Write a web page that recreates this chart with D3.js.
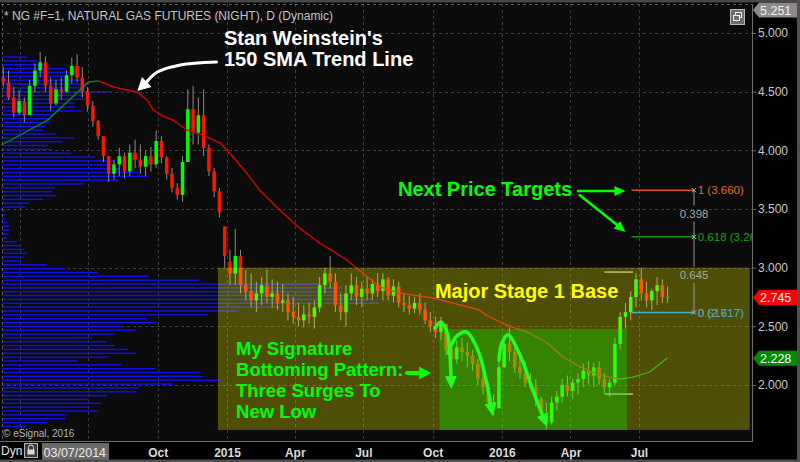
<!DOCTYPE html>
<html><head><meta charset="utf-8">
<script src="https://cdn.jsdelivr.net/npm/d3@7"></script>
<style>
html,body{margin:0;padding:0;background:#000;}
svg{display:block;font-family:"Liberation Sans",Arial,sans-serif;}
</style></head><body>
<svg id="chart" width="800" height="462"></svg>
<script>
// ---------------- DATA ----------------
const chartTitle = "* NG #F=1, NATURAL GAS FUTURES (NIGHT), D (Dynamic)";
const firstDate = "2014-03-07";
const lastDomainDate = "2016-11-28";
const barStart = "2014-03-10"; // weekly bars, one per week
// [open, high, low, close]
const weeklyBars = [
 [4.62,4.71,4.54,4.58],[4.58,4.68,4.43,4.45],[4.45,4.54,4.28,4.32],[4.32,4.51,4.30,4.42],
 [4.42,4.45,4.24,4.30],[4.30,4.60,4.30,4.55],[4.55,4.74,4.49,4.68],[4.68,4.84,4.62,4.75],
 [4.75,4.80,4.50,4.55],[4.55,4.62,4.34,4.40],[4.40,4.60,4.38,4.52],[4.52,4.62,4.43,4.50],
 [4.50,4.68,4.49,4.64],[4.64,4.79,4.57,4.72],[4.72,4.82,4.58,4.62],[4.62,4.71,4.45,4.50],
 [4.50,4.54,4.33,4.38],[4.38,4.42,4.20,4.25],[4.25,4.26,4.09,4.12],[4.12,4.12,3.90,3.95],
 [3.95,3.95,3.73,3.80],[3.80,3.92,3.75,3.88],[3.88,4.02,3.78,3.95],[3.95,3.98,3.76,3.82],
 [3.82,4.05,3.78,3.98],[3.98,4.09,3.85,3.92],[3.92,4.05,3.80,3.86],[3.86,4.00,3.78,3.95],
 [3.95,4.03,3.82,3.88],[3.88,4.17,3.85,4.08],[4.08,4.12,3.89,3.94],[3.94,3.95,3.75,3.80],
 [3.80,3.85,3.64,3.68],[3.68,3.72,3.58,3.62],[3.62,3.95,3.56,3.90],[3.90,4.52,3.90,4.35],
 [4.35,4.55,4.05,4.15],[4.15,4.45,4.05,4.30],[4.30,4.52,3.95,4.02],[4.02,4.05,3.78,3.82],
 [3.82,3.85,3.60,3.65],[3.65,3.68,3.43,3.47],[3.35,3.35,3.00,3.10],[3.05,3.15,2.85,2.95],
 [2.95,3.33,2.85,3.10],[3.10,3.15,2.78,2.85],[2.85,2.98,2.72,2.80],[2.80,2.95,2.66,2.72],
 [2.72,2.88,2.62,2.78],[2.78,2.92,2.68,2.85],[2.85,2.98,2.70,2.75],[2.75,2.90,2.66,2.78],
 [2.78,2.88,2.64,2.70],[2.70,2.86,2.62,2.72],[2.72,2.78,2.55,2.62],[2.62,2.75,2.52,2.58],
 [2.58,2.70,2.50,2.55],[2.55,2.68,2.49,2.60],[2.60,2.70,2.52,2.58],[2.58,2.72,2.48,2.66],
 [2.66,2.92,2.62,2.85],[2.85,3.00,2.78,2.95],[2.95,3.10,2.82,2.88],[2.88,2.95,2.62,2.68],
 [2.68,2.78,2.55,2.62],[2.62,2.85,2.50,2.78],[2.78,2.95,2.72,2.85],[2.85,2.92,2.68,2.75],
 [2.75,2.88,2.66,2.82],[2.82,2.92,2.72,2.78],[2.78,2.90,2.72,2.86],[2.86,2.95,2.75,2.80],
 [2.80,2.95,2.72,2.90],[2.90,2.92,2.72,2.76],[2.76,2.90,2.70,2.84],[2.84,2.88,2.66,2.70],
 [2.70,2.78,2.62,2.68],[2.68,2.76,2.60,2.65],[2.65,2.75,2.61,2.70],[2.70,2.78,2.60,2.64],
 [2.64,2.70,2.52,2.55],[2.55,2.62,2.45,2.50],[2.50,2.58,2.40,2.45],[2.45,2.58,2.38,2.52],
 [2.52,2.52,2.25,2.30],[2.30,2.35,2.15,2.22],[2.22,2.38,2.18,2.32],[2.32,2.40,2.20,2.28],
 [2.28,2.36,2.15,2.25],[2.25,2.30,2.12,2.18],[2.18,2.22,2.00,2.05],[2.05,2.10,1.92,1.98],
 [1.98,2.02,1.80,1.85],[1.85,1.92,1.74,1.80],[1.80,2.20,1.82,2.15],[2.15,2.42,2.15,2.35],
 [2.35,2.49,2.20,2.28],[2.28,2.32,2.10,2.15],[2.15,2.25,2.05,2.10],[2.10,2.20,1.98,2.02],
 [2.02,2.10,1.96,1.98],[1.98,2.05,1.82,1.88],[1.88,1.90,1.72,1.76],[1.76,1.85,1.62,1.68],
 [1.68,1.90,1.66,1.85],[1.85,1.95,1.78,1.90],[1.90,2.05,1.85,2.00],[2.00,2.08,1.90,1.95],
 [1.95,2.05,1.88,2.02],[2.02,2.10,1.92,2.05],[2.05,2.18,1.98,2.12],[2.12,2.20,2.00,2.08],
 [2.08,2.19,1.98,2.15],[2.15,2.20,2.00,2.05],[2.05,2.10,1.93,1.98],[1.98,2.05,1.90,2.02],
 [2.02,2.40,2.00,2.35],[2.35,2.62,2.30,2.58],[2.58,2.70,2.48,2.62],[2.62,2.80,2.55,2.75],
 [2.75,2.95,2.66,2.90],[2.90,3.00,2.72,2.78],[2.78,2.88,2.66,2.72],[2.72,2.82,2.64,2.80],
 [2.80,2.92,2.68,2.85],[2.85,2.90,2.70,2.75],[2.75,2.84,2.70,2.745]
];
// 150-day SMA
const smaDates = ["2014-03-08","2014-05-08","2014-07-01","2014-07-14","2014-08-03","2014-08-21","2014-09-03",
 "2014-09-17","2014-09-25","2014-10-08","2014-10-21","2014-11-09","2014-11-30","2014-12-23","2015-01-09",
 "2015-01-27","2015-02-13","2015-03-12","2015-04-07","2015-05-04","2015-06-09","2015-07-23","2015-08-18",
 "2015-10-01","2015-12-02","2015-12-11","2016-01-07","2016-02-07","2016-03-01","2016-03-22","2016-04-14",
 "2016-05-10","2016-06-05","2016-06-23","2016-07-15","2016-08-07"];
const smaValues = [4.045,4.258,4.582,4.591,4.540,4.514,4.497,4.429,4.344,4.292,4.258,4.173,4.130,4.062,3.943,
 3.806,3.662,3.491,3.338,3.210,3.065,2.835,2.783,2.741,2.639,2.596,2.511,2.442,2.357,2.238,2.153,
 2.084,2.050,2.067,2.110,2.228];
// volume-by-price profile (relative volume), one row per price bin
const profileTopPrice = 4.795;
const profileBinSize = 0.0328;
const profileVolume = [25,35,45,63,68,67,80,87,83,110,
 82,83,73,73,80,52,47,48,43,41,
 54,72,61,46,49,69,93,113,110,118,
 137,146,116,81,53,50,54,41,27,23,
 4,3,3,5,7,7,7,5,15,17,
 22,25,22,20,45,63,96,147,197,318,
 340,340,347,370,377,278,235,206,145,153,
 119,133,112,90,105,113,126,134,106,75,
 119,153,197,201,217,171,137,134,105,87,
 99,88,96,63,63,45,23];
const priceTicks = [2.0,2.5,3.0,3.5,4.0,4.5,5.0];
const dateTicks = ["2014-04-01","2014-07-01","2014-10-01","2015-01-01","2015-04-01","2015-07-01","2015-10-01","2016-01-01","2016-04-01","2016-07-01"];
const dateTickLabels = ["","","Oct","2015","Apr","Jul","Oct","2016","Apr","Jul"];
const highTag = 5.251, lastPrice = 2.745, lastSma = 2.228;
// drawing-tool objects
const baseBox = {start:"2014-12-20", end:"2016-11-25", top:3.0, bottom:1.616};
const patternBox = {start:"2015-10-10", end:"2016-06-15", top:2.477, bottom:1.616};
const markerLines = [{start:"2016-05-16", end:"2016-06-23", value:2.962},{start:"2016-05-16", end:"2016-06-23", value:1.922}];
const fibStart = "2016-06-21", fibEnd = "2016-09-12", fibLabelAt = "2016-09-17", fibDiffAt = "2016-08-24";
const fibLevels = [{name:"1", value:3.660, color:"#d4541a", text:"#e06a28"},
                   {name:"0.618", value:3.262, color:"#0a9a0a", text:"#12a012"},
                   {name:"0", value:2.617, color:"#4ab0d0", text:"#4ab0d0"}];
const fibOverlapText = "0.617";
// annotations (date, price)
const noteWeinstein = {lines:["Stan Weinstein's","150 SMA Trend Line"], at:["2014-12-28",4.898], size:20};
const arrowWeinstein = [["2014-12-18",4.753],["2014-10-31",4.727],["2014-09-30",4.665],["2014-09-04",4.506]];
const noteTargets = {text:"Next Price Targets", at:["2015-08-16",3.610], size:20};
const arrowTargetA = [["2016-04-11",3.653],["2016-06-13",3.653]];
const arrowTargetB = [["2016-04-13",3.619],["2016-06-13",3.306]];
const noteBase = {text:"Major Stage 1 Base", at:["2015-10-04",2.741], size:20};
const noteSignature = {lines:["My Signature","Bottoming Pattern:","Three Surges To","New Low"], at:["2015-01-13",2.255], size:18.5};
const arrowSignature = [["2015-08-28",2.101],["2015-09-29",2.101]];
const surgeArrows = [
 [["2015-10-04",2.485],["2015-10-12",2.536],["2015-10-20",2.451],["2015-10-24",2.255],["2015-10-26",1.965]],
 [["2015-10-22",2.272],["2015-11-01",2.408],["2015-11-15",2.451],["2015-11-30",2.298],["2015-12-11",2.042],["2015-12-20",1.735]],
 [["2015-12-28",2.212],["2016-01-01",2.357],["2016-01-09",2.425],["2016-01-25",2.255],["2016-02-11",1.957],["2016-03-01",1.641]]
];

// ---------------- SCALES ----------------
const parse = d3.timeParse("%Y-%m-%d");
const PL = 1, PR = 752, PT = 4, PB = 441;
const x = d3.scaleTime().domain([parse(firstDate), parse(lastDomainDate)]).range([PL, PR]);
const y = d3.scaleLinear().domain([1.5, 5.0]).range([443.55, 33]);
const volX = d3.scaleLinear().domain([0, 400]).range([0, 400]);
const X = d => x(parse(d));

const svg = d3.select("#chart");
svg.append("rect").attr("width",800).attr("height",462).attr("fill","#000");
const defs = svg.append("defs");
defs.append("clipPath").attr("id","plotClip").append("rect").attr("x",PL).attr("y",PT).attr("width",PR-PL).attr("height",PB-PT);
svg.append("rect").attr("x",PL).attr("y",PT).attr("width",PR-PL).attr("height",PB-PT).attr("fill","#0b0b0b");

const plot = svg.append("g").attr("clip-path","url(#plotClip)");

// grid
plot.selectAll("line.hg").data(priceTicks).join("line")
  .attr("x1",PL).attr("x2",PR).attr("y1",d=>Math.round(y(d))+0.5).attr("y2",d=>Math.round(y(d))+0.5)
  .attr("stroke","#3c3c3c").attr("stroke-dasharray","3,3");
plot.selectAll("line.vg").data(dateTicks).join("line")
  .attr("x1",d=>Math.round(X(d))+0.5).attr("x2",d=>Math.round(X(d))+0.5).attr("y1",PT).attr("y2",PB)
  .attr("stroke","#3c3c3c").attr("stroke-dasharray","3,3");

// volume profile
plot.selectAll("rect.vp").data(profileVolume).join("rect")
  .attr("x",PL+1).attr("y",(d,i)=>y(profileTopPrice-i*profileBinSize)-0.7).attr("height",1.4)
  .attr("width",d=>volX(d)).attr("fill","#1010f0");

// candles
const bars = weeklyBars.map((b,i)=>({date:d3.timeDay.offset(parse(barStart),7*i),o:b[0],h:b[1],l:b[2],c:b[3]}));
const cg = plot.append("g");
cg.selectAll("line.wick").data(bars).join("line")
  .attr("x1",d=>x(d.date)).attr("x2",d=>x(d.date)).attr("y1",d=>y(d.h)).attr("y2",d=>y(d.l))
  .attr("stroke","#8c8c8c").attr("stroke-width",1);
cg.selectAll("rect.body").data(bars).join("rect")
  .attr("x",d=>x(d.date)-1.75).attr("width",3.5)
  .attr("y",d=>y(Math.max(d.o,d.c))).attr("height",d=>Math.max(1,Math.abs(y(d.o)-y(d.c))))
  .attr("fill",d=>d.c>=d.o?"#00ff00":"#ff1400");

// SMA, coloured by slope
const sma = smaDates.map((d,i)=>({date:parse(d),v:smaValues[i]}));
const segs = d3.pairs(sma);
plot.selectAll("line.sma").data(segs).join("line")
  .attr("x1",d=>x(d[0].date)).attr("y1",d=>y(d[0].v)).attr("x2",d=>x(d[1].date)).attr("y2",d=>y(d[1].v))
  .attr("stroke",d=>d[1].v>=d[0].v?"#009a00":"#e00000").attr("stroke-width",1.3).attr("stroke-linecap","round");

// marker lines
plot.selectAll("line.mk").data(markerLines).join("line")
  .attr("x1",d=>X(d.start)).attr("x2",d=>X(d.end)).attr("y1",d=>y(d.value)).attr("y2",d=>y(d.value))
  .attr("stroke","#a8a8a0").attr("stroke-width",1.5);

// boxes (semi-transparent)
plot.append("rect").attr("x",X(baseBox.start)).attr("width",X(baseBox.end)-X(baseBox.start))
  .attr("y",y(baseBox.top)).attr("height",y(baseBox.bottom)-y(baseBox.top)).attr("fill","rgba(255,255,0,0.28)");
plot.append("rect").attr("x",X(patternBox.start)).attr("width",X(patternBox.end)-X(patternBox.start))
  .attr("y",y(patternBox.top)).attr("height",y(patternBox.bottom)-y(patternBox.top)).attr("fill","rgba(0,255,0,0.3)");

// fibonacci tool
const fg = plot.append("g");
fg.selectAll("line.fib").data(fibLevels).join("line")
  .attr("x1",X(fibStart)).attr("x2",X(fibEnd)).attr("y1",d=>y(d.value)).attr("y2",d=>y(d.value))
  .attr("stroke",d=>d.color).attr("stroke-width",1.5);
const fx = X(fibEnd);
d3.pairs(fibLevels).forEach(p=>{
  const y0=y(p[0].value), y1=y(p[1].value), ym=(y0+y1)/2;
  fg.append("line").attr("x1",fx).attr("x2",fx).attr("y1",y0).attr("y2",ym-8).attr("stroke","#9a9a9a");
  fg.append("line").attr("x1",fx).attr("x2",fx).attr("y1",ym+8).attr("y2",y1).attr("stroke","#9a9a9a");
  fg.append("text").attr("x",X(fibDiffAt)).attr("y",ym).attr("dy","0.36em").attr("font-size",11.5)
    .attr("fill","#a8a8a8").text((p[0].value-p[1].value).toFixed(3));
});
fg.selectAll("path.fm").data(fibLevels).join("path")
  .attr("transform",d=>`translate(${fx},${y(d.value)})`)
  .attr("d",d3.symbol(d3.symbolX,14)).attr("stroke","#b0b0b0").attr("fill","none");
fg.selectAll("text.fl").data(fibLevels).join("text")
  .attr("x",X(fibLabelAt)).attr("y",d=>y(d.value)).attr("dy","0.36em").attr("font-size",11.5)
  .attr("fill",d=>d.text).text(d=>`${d.name} (${d.value.toFixed(3)})`);
fg.append("text").attr("x",X(fibLabelAt)).attr("y",y(fibLevels[2].value)).attr("dy","0.36em").attr("font-size",11.5)
  .attr("fill","#8a9aa0").attr("opacity",0.75).text(fibOverlapText);

// ---------------- ANNOTATIONS ----------------
const ann = svg.append("g");
function arrow(pts, opt){
  const P = pts.map(p=>[X(p[0]), y(p[1])]);
  const tip = P[P.length-1], prev = P[P.length-2];
  const dx = tip[0]-prev[0], dy = tip[1]-prev[1], len = Math.hypot(dx,dy);
  const ux = dx/len, uy = dy/len;
  const base = [tip[0]-ux*opt.head, tip[1]-uy*opt.head];
  const lp = P.slice(0,-1).concat([base]);
  ann.append("path").attr("d", d3.line().curve(opt.curve||d3.curveLinear)(lp))
    .attr("fill","none").attr("stroke",opt.color).attr("stroke-width",opt.width).attr("stroke-linecap","round").attr("stroke-linejoin","round");
  ann.append("path").attr("d",`M${tip[0]},${tip[1]}L${base[0]-uy*opt.half},${base[1]+ux*opt.half}L${base[0]+uy*opt.half},${base[1]-ux*opt.half}Z`)
    .attr("fill",opt.color);
}
function note(n, color){
  const t = ann.append("text").attr("x",X(n.at[0])).attr("y",y(n.at[1])).attr("font-size",n.size).attr("font-weight","bold").attr("fill",color);
  const lines = n.lines || [n.text];
  lines.forEach((l,i)=>t.append("tspan").attr("x",X(n.at[0])).attr("dy",i===0?0:(n.size===20?"1.07em":"1.14em")).text(l));
}
note(noteWeinstein,"#ffffff");
arrow(arrowWeinstein,{color:"#ffffff",width:3,head:13,half:7,curve:d3.curveCatmullRom});
note(noteTargets,"#00ff00");
arrow(arrowTargetA,{color:"#00ff00",width:2.5,head:11,half:5});
arrow(arrowTargetB,{color:"#00ff00",width:2.5,head:11,half:5});
note(noteBase,"#ffff00");
note(noteSignature,"#00ff00");
arrow(arrowSignature,{color:"#00ff00",width:4,head:12,half:6.5});
surgeArrows.forEach(a=>arrow(a,{color:"#22ff22",width:3.5,head:13,half:6,curve:d3.curveCatmullRom}));

// ---------------- FRAME / AXES ----------------
svg.append("text").attr("x",4).attr("y",20).attr("font-size",12).attr("fill","#c4c4c4").text(chartTitle);
svg.append("text").attr("x",3).attr("y",437).attr("font-size",10).attr("fill","#b4b4b4").text("\u00a9 eSignal, 2016");
svg.append("line").attr("x1",PL).attr("x2",PR).attr("y1",PT+0.5).attr("y2",PT+0.5).attr("stroke","#5a5a5a").attr("stroke-dasharray","3,3");
svg.append("line").attr("x1",PL+1.5).attr("x2",PL+1.5).attr("y1",PT).attr("y2",PB).attr("stroke","#5a5a5a").attr("stroke-dasharray","3,3");
svg.append("line").attr("x1",PR+0.5).attr("x2",PR+0.5).attr("y1",PT).attr("y2",PB+1).attr("stroke","#6e6e6e");
svg.append("line").attr("x1",0).attr("x2",PR+1).attr("y1",PB+0.5).attr("y2",PB+0.5).attr("stroke","#6e6e6e");

// right axis
const ya = svg.append("g").attr("transform",`translate(${PR},0)`)
  .call(d3.axisRight(y).tickValues(priceTicks).tickFormat(d3.format(".3f")).tickSize(4).tickPadding(2));
ya.select(".domain").remove();
ya.selectAll("line").attr("stroke","#707070");
ya.selectAll("text").attr("font-size",12).attr("fill","#c8c8c8").attr("font-family","Liberation Sans, Arial, sans-serif");

// bottom axis
const xa = svg.append("g").attr("transform",`translate(0,${PB})`)
  .call(d3.axisBottom(x).tickValues(dateTicks.map(parse)).tickFormat((d,i)=>dateTickLabels[i]).tickSize(0));
xa.select(".domain").remove();
xa.selectAll("text").attr("y",7).attr("font-size",12).attr("font-weight","bold").attr("fill","#dcdcdc")
  .attr("font-family","Liberation Sans, Arial, sans-serif");

// price tags
function tag(v, cy, fill, tfill){
  const g = svg.append("g").attr("transform",`translate(753,${cy})`);
  g.append("path").attr("d","M0,0L6,-7.5L44,-7.5L44,7.5L6,7.5Z").attr("fill",fill);
  g.append("text").attr("x",7).attr("y",0).attr("dy","0.36em").attr("font-size",12.5).attr("fill",tfill).text(v.toFixed(3));
}
tag(highTag, Math.max(y(highTag),10), "#8a8a8a", "#f2f2f2");
tag(lastPrice, y(lastPrice), "#ff0000", "#ffffff");
tag(lastSma, y(lastSma), "#008a00", "#ffffff");

// top-right window icon
svg.append("rect").attr("x",730.5).attr("y",9.5).attr("width",14).attr("height",15).attr("fill","#6c6c6c").attr("stroke","#b8b8b8");
svg.append("rect").attr("x",735.5).attr("y",12.5).attr("width",6).attr("height",5).attr("fill","none").attr("stroke","#eeeeee");
svg.append("rect").attr("x",733.5).attr("y",15.5).attr("width",6).attr("height",5).attr("fill","#6c6c6c").attr("stroke","#eeeeee");

// bottom-left controls
svg.append("text").attr("x",1).attr("y",455).attr("font-size",12).attr("fill","#e6e6e6").text("Dyn");
svg.append("rect").attr("x",24.5).attr("y",443.5).attr("width",13).attr("height",14).attr("fill","#3a3a3a").attr("stroke","#b0b0b0");
svg.append("path").attr("d","M28.5,449.5v-2a2.5,2.5 0 0 1 5,0v2").attr("fill","none").attr("stroke","#dddddd");
svg.append("rect").attr("x",27.5).attr("y",449.5).attr("width",7).attr("height",5).attr("fill","#dddddd");
svg.append("rect").attr("x",42).attr("y",443).attr("width",67).attr("height",18).attr("fill","#6a6a6a");
svg.append("text").attr("x",43.5).attr("y",457).attr("font-size",12.5).attr("fill","#ececec").text("03/07/2014");

// outer frame
svg.append("rect").attr("x",0).attr("y",0).attr("width",800).attr("height",2.5).attr("fill","#484848");
svg.append("rect").attr("x",797).attr("y",0).attr("width",3).attr("height",462).attr("fill","#505050");
svg.append("rect").attr("x",0).attr("y",459.5).attr("width",800).attr("height",2.5).attr("fill","#505050");
</script>
</body></html>
